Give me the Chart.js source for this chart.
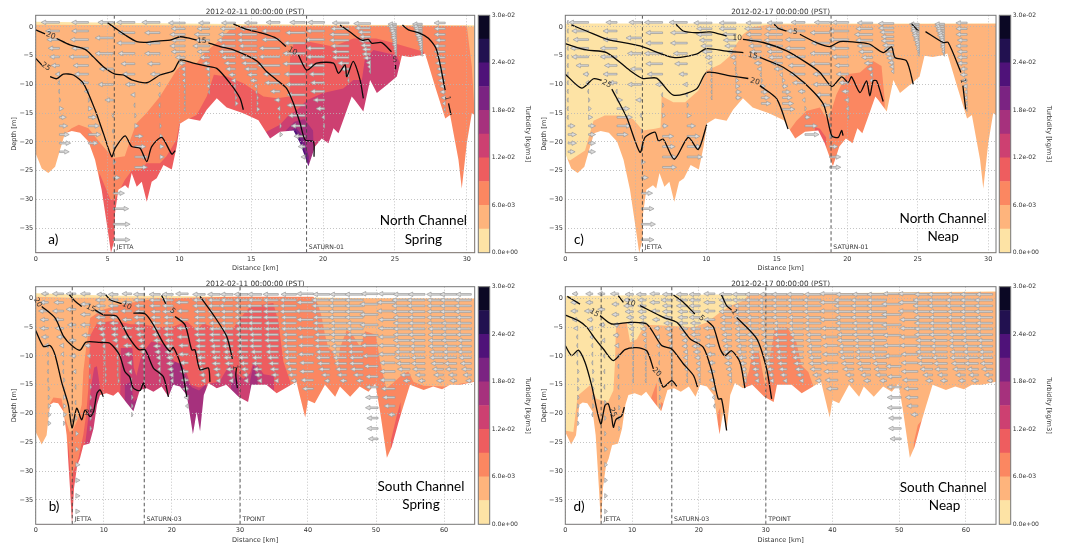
<!DOCTYPE html>
<html>
<head>
<meta charset="utf-8">
<script src="https://cdn.jsdelivr.net/npm/chart.js@4"></script>
<style>
  html, body { margin: 0; padding: 0; background: #fff; }
  body { position: relative; width: 1070px; height: 544px; overflow: hidden; }
  canvas { position: absolute; filter: blur(0.45px); }
</style>
</head>
<body>
<canvas id="panelA"></canvas>
<canvas id="panelC"></canvas>
<canvas id="panelB"></canvas>
<canvas id="panelD"></canvas>
<canvas id="barA"></canvas>
<canvas id="barC"></canvas>
<canvas id="barB"></canvas>
<canvas id="barD"></canvas>
<script>
// colour levels, low to high
const bandColors = ["#fde3a5", "#feb47c", "#fb8761", "#ee5d5f", "#cd4071", "#a6317d", "#7b2382", "#4f1279", "#221150", "#0b0824"];
const colorbarValues = [0, 0.006, 0.012, 0.018, 0.024, 0.03];
const colorbarLabels = ["0.0e+00", "6.0e-03", "1.2e-02", "1.8e-02", "2.4e-02", "3.0e-02"];
const depthTicks = [0, -5, -10, -15, -20, -25, -30, -35];
const northTicks = [0, 5, 10, 15, 20, 25, 30];
const southTicks = [0, 10, 20, 30, 40, 50, 60];

// bed profiles [km, m]
const northBed = [[0,-22],[.42,-24.6],[.88,-25.4],[1.35,-24.3],[1.69,-21.4],[2.04,-18.5],[2.51,-18.1],[3.09,-18.4],[3.67,-19.9],[4.13,-23.1],[4.59,-28.3],[4.94,-34.1],[5.24,-39.25],[5.48,-37],[5.52,-32.4],[5.75,-28.3],[6.22,-27.5],[6.45,-28.1],[6.68,-25.4],[7.03,-27.8],[7.38,-26.9],[7.73,-30.4],[8.07,-26.9],[8.42,-26.3],[8.89,-24],[9.47,-24.8],[9.81,-20.8],[10.05,-16.8],[10.63,-15.9],[11.44,-16.3],[11.9,-14.4],[12.6,-12.4],[13.29,-14],[14.45,-15],[15.5,-16.2],[16.31,-19.4],[17,-18.2],[17.94,-18],[18.4,-20.2],[18.98,-24.2],[19.44,-20.8],[19.9,-19.4],[20.37,-20.2],[20.72,-17.6],[21.07,-18.5],[21.53,-15.3],[21.99,-12.1],[22.2,-12.7],[22.8,-14.7],[23.27,-9.2],[23.74,-11.5],[24.43,-10.1],[25.13,-8.6],[25.48,-5],[26.06,-5.2],[26.75,-4.9],[27.1,-4.6],[27.8,-10.4],[28.5,-15.9],[28.84,-15.3],[29.42,-23.1],[29.65,-28.1],[30,-20.2],[30.35,-15],[30.55,-15.3]];
const southBed = [[0,-23.2],[.88,-25.4],[1.6,-23.8],[2.1,-18.5],[2.6,-18.1],[3.3,-18.2],[4.1,-19.7],[4.55,-23.8],[5.04,-33],[5.34,-39.25],[5.63,-33],[6.1,-29],[6.5,-27.8],[7,-25.5],[7.9,-25.2],[8.5,-22.6],[9,-18.5],[9.45,-16.8],[10.4,-16.5],[11.4,-16.9],[12.1,-16.2],[13.4,-18.2],[14.35,-19.6],[15.3,-15.9],[16.3,-15.6],[17.3,-16.2],[18.5,-15.3],[19.5,-17.1],[20.2,-15],[21.2,-15.3],[22.2,-16.8],[23.1,-23.6],[23.65,-19.7],[24.15,-23.1],[24.7,-16.8],[25.4,-14.7],[26.6,-15.6],[28,-15],[29.8,-17.1],[31.2,-18],[31.7,-15],[33.9,-15],[35.4,-16.5],[37.1,-15.3],[38.3,-14.5],[39.6,-20.7],[40,-17.7],[41,-18.2],[42.5,-15],[44,-17.1],[44.7,-15.3],[46.2,-17.1],[47.6,-15.3],[48.9,-16.2],[49.9,-14.8],[50.6,-19.7],[51.6,-27.7],[52.3,-25.8],[53.3,-21.5],[54,-18.8],[55,-15],[57,-15.9],[58.4,-15.3],[59.7,-15.8],[60.9,-15],[62.4,-15],[64.5,-14.5]];

// top of each colour level, panel a
const aBand0 = [[0,.9],[10,.6],[20,.4],[30.55,.3]];
const aBand1 = [[0,.4],[8,.3],[15,.2],[30.55,.1]];
const aBand2 = [[0,-40],[2,-40],[2.04,-18.6],[2.5,-17.6],[3,-17],[3.67,-17.6],[4.5,-20.2],[5.4,-22.8],[6.2,-22.5],[6.57,-19.7],[7,-16.8],[7.7,-15],[8.65,-12.1],[9.8,-7.5],[10.4,-6],[11.2,-6.3],[11.7,-4.6],[12.8,-2.3],[13.5,-.5],[14.45,.2],[30,.2],[30.35,-6.9],[30.55,-15.3]];
const aBand3 = [[0,-40],[4.4,-40],[4.43,-25.4],[5.2,-30],[5.5,-30],[6.2,-26.6],[6.7,-24.9],[7.3,-24.9],[7.7,-23.7],[8.65,-23.7],[9.1,-22.5],[9.8,-19.6],[10,-16.8],[11.2,-15.3],[11.9,-12.1],[12.4,-8.3],[13.3,-8.6],[14.45,-9.8],[15.85,-12.1],[16.8,-12.4],[17.66,-12.1],[17.7,-5.4],[17.95,-2.8],[19.1,-2.6],[20.7,-3.4],[22.1,-2],[23.7,-2],[24.9,-2.8],[27,-4.3],[27.2,-5.3],[27.3,-40]];
const aBand4 = [[0,-40],[15.8,-40],[15.85,-18.5],[17,-17],[17.5,-15.6],[18.2,-14.4],[18.9,-12.7],[20,-11.5],[21.4,-10.7],[22.1,-9.2],[22.7,-9.2],[22.9,-5.7],[23.5,-4],[25.1,-4.9],[25.35,-6.3],[25.5,-40]];
const aBand5 = [[0,-40],[17.35,-40],[17.4,-18],[18,-16.5],[18.7,-16],[19.3,-18],[19.6,-40]];
const aBand6 = [[0,-40],[17.55,-40],[17.6,-18.2],[18.1,-17.5],[18.6,-19],[19,-22.5],[19.2,-40]];
const aBand7 = [[0,-40],[17.75,-40],[17.8,-18.2],[18.1,-18],[18.5,-20],[18.9,-23],[18.95,-40]];

// panel c
const cBand0 = [[0,.6],[30.55,.6]];
const cBand1 = [[0,-40],[.05,-22.7],[.33,-23.2],[1.4,-21.5],[2,-16.3],[2.8,-15.4],[3.9,-15.4],[4.8,-16],[5.5,-18],[6.36,-17.7],[6.76,-17.5],[6.83,-12],[7.66,-13.1],[8.5,-13.1],[9.43,-11.1],[10,-7.6],[11,-6.5],[11.7,-5],[11.8,-4.2],[12.6,-1.3],[13.3,0],[14.5,.45],[30.55,.55]];
const cBand2 = [[0,-40],[15.75,-40],[15.8,-18.3],[16.4,-16.3],[17.1,-14.6],[18.06,-14],[18.65,-16.3],[19.24,-11.7],[19.95,-8.2],[20.9,-7.9],[21.84,-5.9],[22.43,-6.8],[22.65,-12.5],[22.7,-40]];
const cBand3 = [[0,-40],[17.65,-40],[17.7,-17.4],[18.06,-17.7],[18.5,-19.2],[18.7,-40]];

// panel b
const bBand0 = [[0,.9],[10,.5],[20,.4],[30,.3],[40,.2],[50,0],[64.5,-.1]];
const bBand1 = [[0,.3],[5,.1],[10,.1],[64.5,-.02]];
const bBand2 = [[0,-40],[1.9,-40],[2,-18.5],[2.6,-17.2],[3.8,-17.4],[4.3,-20.8],[5,-23.2],[5.4,-23],[6.27,-20.8],[6.76,-18.5],[7,-12.7],[7.4,-8.7],[8,-3.4],[9.7,-2],[12.4,-1.1],[15.3,-.5],[17.8,0],[29,.3],[40.8,.3],[41.5,-1.1],[42,-3.1],[42.5,-6.3],[43,-8.6],[43.7,-9.2],[44.3,-12.1],[44.7,-8.6],[45.7,-5.5],[46.7,-6.6],[47.65,-8.4],[48.4,-5.7],[50,-6.3],[50.6,-11],[51.5,-15.6],[52.5,-14.7],[53.8,-13.3],[54.75,-12.7],[55.5,-14.5],[57,-15.2],[60,-15.3],[64.5,-14.4]];
const bBand3 = [[0,-40],[4.4,-40],[4.8,-24.9],[5.2,-32.4],[5.5,-30.1],[6.27,-27.8],[7,-23.7],[7.4,-20.3],[7.74,-15.6],[8,-6.5],[9,-4.3],[11.4,-3.9],[14,-4.5],[15.8,-4.5],[17.8,-5],[20.2,-4.9],[22.2,-4],[23.65,-5.5],[24.6,-4.3],[27.1,-5.5],[29,-5.2],[30.3,-3.1],[31.5,-1.4],[34.9,-.8],[35.65,-4],[36.4,-11],[37.4,-14.5],[37.6,-40],[52,-40],[52.2,-24.6],[53,-20.6],[53.6,-18],[53.8,-40]];
const bBand4 = [[0,-40],[7,-40],[7.2,-26],[7.7,-21],[8.1,-15.5],[8.6,-12],[9,-11.8],[9.4,-15],[9.6,-40],[12.2,-40],[12.5,-8.6],[14.2,-8.6],[14.4,-12],[14.8,-13.5],[15.4,-10.5],[16,-9],[17,-7.5],[19,-8],[20,-10.5],[21,-11.5],[22,-12.5],[22.8,-15],[24,-15.5],[25.5,-14.8],[27,-14.5],[28.5,-11.5],[29.5,-13],[30.5,-14],[31.5,-13],[32,-11],[32.5,-11.5],[33.5,-13.2],[35,-13.5],[35.2,-40]];
const bBand5 = [[0,-40],[13,-40],[13.1,-15],[14,-14.5],[14.4,-18],[15.2,-17],[15.6,-40],[19.6,-40],[19.7,-12],[20.5,-11],[21.5,-11.5],[22,-13.5],[22.6,-15],[23,-15.5],[24,-16],[25,-15],[25.1,-40],[28.5,-40],[28.7,-14.5],[29.4,-13.7],[29.8,-15],[30,-40],[31,-40],[31.5,-14.3],[32,-11.7],[32.6,-14],[33,-40]];

// panel d
const dBand0 = [[0,.4],[27,.7],[40,.9],[55,1.1],[64.5,1.2]];
const dBand1 = [[0,-40],[.1,-23],[1.2,-23.2],[1.85,-16.9],[3.7,-15.1],[4.7,-17.5],[5.4,-17.7],[6.4,-18],[7.2,-16],[7.44,-11.1],[7.6,-4.5],[9.2,-4.2],[9.7,-7.6],[10.7,-7.1],[11.9,-4.6],[14.7,-4.7],[19.2,-5],[21.2,-4.2],[23.2,-2.4],[24.7,-1.3],[26.7,-.4],[27.4,.6],[40,.85],[64.5,1.15]];
const dBand2 = [[0,-40],[12.6,-40],[12.8,-17.5],[13.7,-14.6],[14,-40],[14.2,-40],[14.3,-18],[14.9,-18.5],[15,-40],[22.6,-40],[22.8,-20],[23.2,-19],[23.4,-40],[26.7,-40],[26.8,-15],[27.5,-12.7],[28,-9.5],[29,-9.5],[29.5,-12.5],[30,-15.5],[30.6,-10.5],[31.4,-5],[33.2,-5],[34.6,-7.6],[35.4,-11.7],[36.4,-12.8],[37.1,-15.1],[37.3,-40],[39.2,-40],[39.3,-18],[39.7,-40],[51.8,-40],[52.2,-25],[52.8,-22],[53.5,-21],[53.8,-40]];

// salinity contours, split where the label sits
const aContours = [
  [[5,.75],[5.53,-.2],[6.22,-1.4],[7.03,-2.55],[7.73,-2.67],[8.65,-2.4],[9.35,-2.3],[10.05,-1.7],[10.74,-2],[11.2,-2.26]],
  [[12.02,-2.75],[12.83,-3.4],[13.76,-4],[15.38,-5.9],[16.08,-7.8],[16.77,-9.2],[17.47,-10.7],[17.94,-13.3],[18.4,-16.75],[18.75,-19.65],[19.33,-19.95],[19.37,-22.55]],
  [[0,-.5],[.65,-1.2]],
  [[1.46,-2],[2.39,-3.1],[3.44,-3.9],[4.01,-5.2],[4.71,-6.9],[5.52,-8.2],[6.1,-8.35],[6.68,-9.2],[7.73,-9.7],[8.65,-8.35],[9.58,-7.6],[10.05,-5.75],[10.97,-6.3],[11.9,-6.8],[12.6,-7.2],[13.53,-9.8],[14.22,-12.4],[14.45,-14.4]],
  [[0,-5.45],[.42,-6.6]],
  [[1,-8.64],[1.46,-9],[1.92,-8.2],[2.62,-8.35],[3.32,-9.8],[4.13,-14.4],[4.71,-18.5],[5.29,-22.55],[5.52,-21.1],[6.22,-18.95],[6.68,-20.8],[7.26,-21.1],[7.73,-23.4],[8.07,-20.8],[8.77,-19.2],[9.47,-22.1],[9.71,-21.5]],
  [[13.76,.5],[14.68,-.4],[15.77,-1.1],[16.77,-2],[17.42,-3.4]],
  [[18.28,-4.87],[18.86,-7.5],[19.56,-6.3],[20.72,-6.3],[21.07,-8.05],[21.53,-6.6],[21.65,-8.64],[22.1,-6],[22.57,-9.2],[22.8,-12.4]],
  [[21.18,.35],[21.99,-1.1],[22.7,-2.3],[23.15,-2.15],[23.4,-2.84],[24.08,-2.72],[24.76,-4.3]],
  [[25.04,-6.6],[25.04,-7.36]],
  [[25.52,.35],[25.94,-.5],[26.75,-1.1],[27.33,-1.97],[27.9,-4],[28.5,-11]],
  [[28.73,-13.3],[28.9,-15.3]]
];
const cContours = [
  [[7.85,.46],[8.37,-.7],[9.3,-1],[10.26,-.87],[11.44,-1.56]],
  [[12.6,-2.14],[14.04,-2.7],[15.7,-4.16],[17.1,-6.2],[18.06,-7.9],[18.9,-10.35],[19.6,-8.67],[20.07,-9.65],[20.3,-8.67],[20.9,-11.4],[21.37,-9.36],[21.6,-11.97],[21.84,-9.36],[22.08,-9.36],[22.55,-12.95]],
  [[14.82,.46],[15.1,-.23],[15.7,-.7]],
  [[16.64,-1.27],[17.8,-2.72],[18.77,-3.4],[19.48,-2.54],[20.9,-2.72],[21.6,-3],[22.55,-4.45],[23.14,-3.47],[23.38,-5.3],[24.2,-5.9],[24.68,-9.95]],
  [[.43,.35],[1.5,-.7],[2.99,-2.14],[5.3,-3.3],[7.66,-5.3],[9.3,-4.74],[10,-3.76],[11.44,-4.2],[12.63,-4.45]],
  [[13.8,-5.3],[15.46,-7],[16.9,-9.6],[18.3,-13.4],[18.9,-18.9],[19.36,-19.2],[19.6,-18],[19.7,-18.9]],
  [[0,-2.9],[1.5,-4],[2.93,-4.45],[4.6,-7.6],[5.5,-8.96],[6.48,-8.9],[7.66,-11.85],[9.3,-10.8],[10.03,-7.9],[11.68,-8.5],[12.98,-8.96]],
  [[13.8,-10.2],[15,-12.5],[15.8,-17.75]],
  [[0,-8.2],[1.16,-10.64],[2,-9],[2.58,-9.25]],
  [[3.3,-10.8],[4.35,-15.7],[5.3,-21.8],[5.65,-19.2],[6.36,-18.3],[6.6,-19.8],[6.95,-19.5],[7.73,-23],[8.72,-19.2],[9.43,-21.3],[10.03,-17]],
  [[24.56,.58],[25.04,-.7]],
  [[25.55,-.8],[26.8,-2.7],[27.16,-2.7],[28.06,-7.9]],
  [[28.2,-10.2],[28.4,-14.3]]
];
const bContours = [
  [[0,-5.6],[1.13,-8.35],[2.1,-8.2],[2.83,-9.8],[3.8,-14.5],[4.8,-18.5],[5.34,-22.5],[6.02,-19.1],[6.76,-21.1],[7.25,-19.4],[8,-20.55],[8.5,-19.7],[9,-16.5],[9.45,-15.9],[9.94,-17.1]],
  [[.88,-1.4],[2.84,-3.4],[4.1,-6.6],[5.3,-8.2],[6.5,-9],[7.4,-7.6],[9.45,-7.66],[10.9,-7.8],[12.3,-9.8],[13.1,-12.7],[13.8,-13.6],[14.35,-15.6],[15.33,-16],[15.82,-14.7],[16.1,-15.6]],
  [[4.95,.64],[5.8,-.5],[6.76,-1.4]],
  [[8.7,-2],[9.94,-2.85],[11.9,-3.1],[13.6,-6.6],[15.1,-8.9],[16.06,-8.9],[17.3,-12.1],[18.75,-13.6],[19.5,-17.1]],
  [[10.28,.64],[10.92,-.23],[12.63,-.93]],
  [[14.35,-2.55],[16.06,-2.67],[17.3,-4.6],[18.75,-7.78],[19.74,-9.2],[20.22,-8.53],[21.45,-12.1],[21.94,-15.3],[22.2,-17.1]],
  [[18.5,.52],[19.1,-.93]],
  [[20.47,-3.13],[21.94,-4.6],[22.92,-8.94],[23.4,-8.94],[24.14,-12.4],[25.37,-12.1],[25.6,-14.5]],
  [[24.14,.35],[26.1,-2.85],[28.06,-6.6],[28.9,-10.5]],
  [[29.5,-12.1],[29.4,-13.3],[29.63,-15.6]]
];
const dContours = [
  [[0,-8.2],[.95,-9.94],[1.95,-9],[2.95,-11.1],[3.94,-15.1],[5.3,-21.8],[5.94,-18.6],[6.44,-18.3],[6.94,-20.6],[7.2,-22.4],[7.6,-21],[8.44,-20.4],[8.84,-18.9]],
  [[0,-2.9],[1.95,-3.87],[3.2,-5],[4.44,-7],[5.7,-8.8],[7.2,-10.8],[8.94,-8.9],[10.7,-8.55],[12.2,-9.1],[13.2,-12.25]],
  [[14.1,-13.8],[14.68,-15.4],[15.93,-14.3],[16.7,-15.26]],
  [[.3,.35],[2.2,-1]],
  [[5.2,-3],[6.94,-4.45],[9.7,-4.16],[12.2,-4.45],[14.43,-8.2],[15.93,-8.8],[17.7,-11.4],[19.2,-13.4],[19.8,-15.4]],
  [[7.94,.46],[8.7,-.7]],
  [[11.2,-1.27],[14.7,-3.3],[16.7,-4.16],[18.67,-7],[20.67,-8.5],[21.9,-12.5],[22.9,-17.46],[23.4,-17.46],[24.16,-22.95]],
  [[16.2,.58],[17.7,-.7],[19.4,-2.7]],
  [[21.2,-3.87],[22.2,-5],[23.2,-8.8],[23.9,-9.94],[24.9,-9.1],[26.16,-11.1],[26.9,-15.6]],
  [[23.4,.58],[24.16,-1.27],[24.9,-2]],
  [[25.66,-3.3],[28.66,-7],[30.15,-12.25],[30.9,-17.46]]
];

// contour labels [text, km, m, rotation]
const aContourLabels = [["20",1.04,-1.5,20],["15",11.55,-2.4,0],["25",.7,-6.9,35],["10",17.87,-4.2,30],["5",25,-5.7,0],["1",28.65,-12.4,80]];
const cContourLabels = [["5",16.3,-.87,10],["10",12.2,-1.85,0],["15",13.3,-5,10],["20",13.45,-9.5,15],["25",2.93,-9.9,30],["1",28.2,-9.4,80]];
const bContourLabels = [["20",.3,-.7,60],["15",8.1,-1.7,25],["10",13.4,-1.3,25],["5",20.1,-2.2,40],["25",7.9,-20,0],["1",29.3,-12,80]];
const dContourLabels = [["25",7.1,-19.8,70],["20",13.68,-12.8,45],["15",4.34,-2.54,30],["10",9.8,-.8,20],["5",20.4,-3.47,40],["1",25.3,-2.4,60]];

// stations
const northStations = ["JETTA", "SATURN-01"];
const northStationKm = [5.47, 18.85];
const southStations = ["JETTA", "SATURN-03", "TPOINT"];
const southStationKm = [5.37, 15.95, 30.03];

// velocity arrows: tail km, depth levels (m) and along-channel speed (dm/s, flood is negative)
const quiverLevels = [
  [.5,.1,-.3,-.7,-1.1,-1.5,-1.9,-2.3,-2.7,-3.1,-3.5,-3.9,-4.3,-4.7],
  [.6,-.2,-.9,-1.7,-2.4,-3.2,-3.9,-4.7,-5.4,-6.2,-6.9,-7.7,-8.4,-9.2,-9.9],
  [.7,-.3,-1.3,-2.3,-3.3,-4.3,-5.3,-6.3,-7.3,-8.3,-9.3,-10.3,-11.3,-12.3,-13.3,-14.3],
  [.8,-.7,-2.2,-3.7,-5.2,-6.7,-8.2,-9.7,-11.2,-12.7,-14.2,-15.7,-17.2,-18.7,-20.2,-21.7],
  [.8,-1,-2.8,-4.6,-6.4,-8.2,-10,-11.8,-13.6,-15.4,-17.2,-19,-20.8,-22.6,-24.4],
  [.8,-1.9,-4.6,-7.3,-10,-12.7,-15.4,-18.1,-20.8,-23.5,-26.2,-28.9,-31.6,-34.3,-37]
];
const northQuiverKm = [.2,1.65,3.67,5.4,6.9,8.65,10.4,12.1,13.9,15.4,17,18.75,20.1,21.8,23.3,25.1,26.9,28.5];
const northQuiverLevel = [3,3,3,5,4,4,2,2,2,2,3,4,3,2,1,0,0,2];
const southQuiverKm = [1.85,4.1,5.9,8,10.2,12.1,14.1,16,18.3,20.2,22.4,24.9,27.1,29,31.2,33.2,35.65,38.3,40.8,43.2,45.7,48.1,50.3,52.8,55,57.2,59.9,61.85,64];
const southQuiverLevel = [3,3,5,4,2,2,3,2,2,2,3,2,2,2,2,2,2,2,3,2,2,2,4,3,2,2,2,2,2];

const aQuiver = [
  [],
  [-13,-10,-9,-8,-7,-6,-3,-1,0,1,3,5,6,7,8,7],
  [-12,-12,-13,-12,-14,-11,-10,-6,-3,1,3,6,8,9,7],
  [-11,-13,-13,-10,-11,-6,-1,0,1,2,5,8,11,12,12],
  [-13,-12,-13,-12,-10,-9,-7,-3,0,1,3,6,8,9,9],
  [-13,-11,-10,-11,-9,-7,-2,-1,-1,0,1,2,3,3],
  [-12,-10,-11,-10,-11,-10,-7,-5,-3,-2,-2,-1,-1,0,0,0],
  [-8,-9,-11,-10,-12,-9,-7,-5,-3,-2,-1,-2,-1],
  [-10,-11,-12,-13,-11,-12,-10,-8,-7,-5,-3,-1,0,1,2],
  [-9,-12,-14,-14,-13,-14,-12,-11,-9,-7,-5,-2,-1,1,1,2],
  [-10,-13,-13,-15,-15,-16,-12,-11,-7,-4,-2,-1,1,2],
  [-11,-14,-15,-16,-16,-15,-14,-13,-13,-12,-10,-8,-5,-3],
  [-12,-13,-14,-13,-13,-12,-11,-10,-10,-8,-6,-2,-1],
  [-12,-13,-14,-14,-13,-12,-12,-8,-6,-3,-1],
  [-12,-11,-9,-8,-8,-7,-6,-6,-5,-3,-2,-1],
  [-6,-6,-5,-5,-4,-4,-4,-3,-3,-3,-2,-2,-1,-1],
  [-7,-7,-6,-6,-5,-5,-4,-4,-3,-3,-2,-2,-1,-1],
  [-8,-8,-8,-7,-8,-8,-7,-7,-6,-6,-5,-4,-4,-3,-2,-1]
];
const cQuiver = [
  [0,0,0,0,0,0,0,0,0,0,0,0,5,6,6,5],
  [-14,-12,-11,-13,-12,-9,-4,-2,0,1,2,3,5,5,5,5],
  [-8,-10,-10,-12,-12,-9,-10,-6,-1,4,9,11,10,8],
  [-9,-11,-10,-8,-10,-4,-1,1,2,3,5,8,9,10,9],
  [-13,-12,-12,-13,-12,-11,-5,-1,1,2,4,8,9,10,10],
  [-13,-12,-12,-10,-9,-6,-3,-1,1,3,6,9,10,11],
  [-13,-11,-11,-9,-8,-7,-5,-3,-1,0,-1,0,0,0],
  [-12,-12,-10,-9,-8,-6,-4,-2,0,1,2,3,4,4],
  [-11,-12,-11,-10,-9,-8,-7,-5,-3,-1,1,3,5,6,7],
  [-11,-12,-13,-13,-12,-11,-10,-8,-6,-2,2,4,6,7,8,9],
  [-10,-13,-14,-14,-14,-12,-11,-9,-5,-2,1,4,9,10],
  [-11,-14,-13,-14,-14,-12,-12,-10,-6,-1,1,3,6,8,8],
  [-12,-14,-14,-13,-12,-10,-9,-7,-5,-3,-2,-1],
  [-11,-12,-13,-12,-11,-10,-8,-6,-4,-2,-2],
  [-11,-11,-10,-9,-9,-8,-7,-6,-5,-4,-3,-2],
  [-7,-6,-6,-6,-5,-5,-4,-4,-3,-3,-2,-2,-1,-1],
  [-7,-7,-6,-6,-5,-5,-4,-4,-3,-3,-3,-2,-2,-1],
  [-8,-8,-8,-7,-8,-7,-7,-7,-5,-5,-4,-3,-2,-2,-1,-1]
];
const bQuiver = [
  [-5,-6,-7,-6,-6,-5,-3,-1,0,0,0,1,1,2,2,2],
  [-8,-7,-8,-7,-6,-5,-3,-2,-1,0,1,1,2,2,2,1],
  [-7,-7,-6,-5,-4,-2,0,0,1,2,2,3,3,3,3],
  [-7,-7,-7,-7,-6,-4,-2,-1,0,1,1,1,1,1],
  [-6,-7,-7,-7,-7,-6,-5,-4,-3,-2,-1,-1,0,1,1,1],
  [-7,-7,-7,-7,-6,-6,-5,-5,-4,-2,-1,-1,0,0,0,1],
  [-7,-7,-8,-7,-7,-7,-6,-5,-3,-2,-1,0,1,1,1],
  [-8,-8,-7,-7,-8,-7,-7,-6,-5,-4,-3,-2,-1,-1,0,0],
  [-8,-8,-8,-7,-7,-7,-6,-6,-5,-5,-4,-3,-2,-2,-1,-1],
  [-8,-8,-8,-8,-7,-7,-7,-7,-6,-6,-6,-5,-5,-4,-3,-2],
  [-9,-9,-8,-8,-8,-8,-7,-7,-6,-6,-5,-4,-3,-2],
  [-9,-9,-9,-8,-8,-8,-8,-8,-7,-7,-7,-6,-6,-5,-4,-3],
  [-9,-9,-9,-9,-9,-8,-8,-8,-8,-7,-7,-6,-6,-5,-4,-3],
  [-9,-9,-10,-9,-9,-9,-9,-8,-8,-8,-7,-7,-6,-5,-4,-3],
  [-10,-10,-10,-10,-10,-9,-9,-9,-8,-8,-8,-7,-6,-5,-4,-3],
  [-10,-10,-11,-10,-10,-10,-10,-9,-9,-9,-8,-7,-7,-6,-5,-3],
  [-11,-11,-11,-11,-11,-10,-10,-10,-10,-9,-9,-8,-7,-6,-5,-3],
  [-11,-12,-12,-12,-11,-11,-11,-10,-10,-10,-9,-9,-8,-7,-6,-4],
  [-12,-12,-13,-12,-12,-11,-11,-11,-10,-10,-9,-8],
  [-12,-13,-13,-13,-12,-12,-12,-11,-11,-11,-10,-10,-9,-8,-6,-4],
  [-12,-13,-13,-13,-13,-12,-12,-12,-12,-11,-11,-10,-9,-8,-7,-5],
  [-13,-13,-13,-13,-13,-12,-12,-12,-12,-11,-11,-10,-10,-9,-7,-5],
  [-12,-13,-13,-13,-12,-12,-11,-10,-9,-9,-9,-9,-8,-8,-7],
  [-12,-13,-13,-12,-12,-12,-12,-12,-11,-11,-11,-10,-9,-8,-5],
  [-12,-13,-13,-13,-12,-12,-12,-12,-12,-11,-11,-11,-10,-9,-7,-5],
  [-12,-13,-13,-12,-12,-12,-12,-12,-11,-11,-11,-10,-10,-9,-7,-5],
  [-12,-12,-12,-12,-12,-12,-11,-11,-11,-11,-10,-10,-9,-8,-7,-5],
  [-12,-12,-12,-12,-12,-11,-11,-11,-11,-10,-10,-10,-9,-8,-6,-5],
  [-11,-12,-12,-12,-11,-11,-11,-11,-10,-10,-10,-9,-8,-7,-6,-4]
];
const dQuiver = [
  [-4,-5,-5,-4,-3,-1,0,0,0,1,1,1,1,1,1,1],
  [-5,-5,-6,-4,-3,-2,-1,0,0,1,1,1,1,1,0],
  [-5,-5,-4,-2,-1,0,0,1,1,1,2,2,2,2,2],
  [-6,-5,-5,-4,-4,-3,-1,0,0,0,1,1,1,1],
  [-6,-7,-7,-6,-5,-4,-3,-2,-1,-1,0,0,0,0,0,0],
  [-7,-6,-6,-6,-5,-5,-4,-3,-2,-1,-1,0,0,0,0,0],
  [-7,-7,-6,-5,-4,-3,-2,-1,0,0,0,1,1,1],
  [-7,-8,-7,-7,-7,-6,-5,-4,-3,-2,-2,-1,-1,0,0,0],
  [-8,-8,-8,-7,-7,-7,-6,-5,-4,-4,-3,-3,-2,-2,-1,-1],
  [-8,-8,-8,-8,-8,-7,-7,-7,-6,-6,-5,-4,-3,-3,-2,-1],
  [-8,-8,-8,-8,-8,-7,-7,-6,-5,-5,-4,-3,-2,-1],
  [-9,-9,-9,-9,-8,-8,-8,-7,-7,-6,-6,-5,-5,-4,-3,-2],
  [-10,-10,-9,-9,-9,-9,-8,-8,-8,-7,-7,-6,-5,-4,-3,-2],
  [-10,-10,-10,-10,-9,-9,-9,-9,-8,-8,-7,-7,-6,-5,-4,-3],
  [-10,-11,-11,-11,-10,-10,-10,-9,-9,-8,-8,-7,-6,-5,-4,-3],
  [-11,-11,-11,-11,-11,-10,-10,-10,-9,-9,-8,-8,-7,-6,-5,-3],
  [-12,-12,-12,-12,-11,-11,-11,-10,-10,-10,-9,-8,-7,-6,-5,-3],
  [-12,-13,-13,-13,-12,-12,-12,-11,-11,-10,-10,-9,-9,-8,-6,-4],
  [-13,-13,-13,-13,-12,-12,-11,-11,-11,-10,-9,-8],
  [-13,-14,-14,-14,-13,-13,-13,-12,-12,-11,-11,-10,-9,-8,-6,-4],
  [-13,-14,-14,-14,-14,-13,-13,-13,-12,-12,-11,-11,-10,-9,-7,-5],
  [-14,-14,-14,-14,-14,-13,-13,-13,-12,-12,-12,-11,-10,-9,-8,-5],
  [-13,-14,-14,-14,-13,-13,-12,-11,-10,-10,-10,-10,-9,-9,-8],
  [-14,-14,-14,-13,-13,-13,-13,-12,-12,-12,-11,-10,-9,-8,-5],
  [-13,-14,-14,-14,-13,-13,-13,-13,-12,-12,-12,-11,-11,-9,-7,-5],
  [-14,-14,-14,-13,-13,-13,-13,-13,-12,-12,-12,-11,-10,-9,-7,-5],
  [-13,-14,-14,-13,-13,-13,-13,-12,-12,-12,-11,-11,-10,-9,-7,-5],
  [-13,-13,-13,-13,-13,-13,-12,-12,-12,-11,-11,-10,-10,-8,-7,-5],
  [-12,-13,-13,-13,-12,-12,-12,-12,-11,-11,-10,-10,-9,-8,-6,-4]
];

const depthMin = -39.25, depthMax = 2.03;
const fontFamily = "'DejaVu Sans', sans-serif";
const noteFamily = "Lato, sans-serif";
const textColor = "#333";

const panels = [
  { id: "panelA", barId: "barA", left: 0, top: 0, width: 478, plotLeft: 35.7, plotRight: 474.7, plotTop: 15.3, plotBottom: 252.7, titleTop: 8.7,
    title: "2012-02-11 00:00:00 (PST)", xMax: 30.55, xTicks: northTicks, bed: northBed,
    bands: [aBand0, aBand1, aBand2, aBand3, aBand4, aBand5, aBand6, aBand7], contours: aContours, contourLabels: aContourLabels,
    stations: northStations, stationKm: northStationKm, quiverKm: northQuiverKm, quiverLevel: northQuiverLevel, quiver: aQuiver,
    notes: [["North Channel", 26.98, -33.6], ["Spring", 26.98, -36.9], ["a)", 1.23, -36.9]] },
  { id: "panelC", barId: "barC", left: 530, top: 0, width: 469, plotLeft: 35.3, plotRight: 466, plotTop: 15.3, plotBottom: 252.7, titleTop: 8.7,
    title: "2012-02-17 00:00:00 (PST)", xMax: 30.55, xTicks: northTicks, bed: northBed,
    bands: [cBand0, cBand1, cBand2, cBand3], contours: cContours, contourLabels: cContourLabels,
    stations: northStations, stationKm: northStationKm, quiverKm: northQuiverKm, quiverLevel: northQuiverLevel, quiver: cQuiver,
    notes: [["North Channel", 26.8, -33.35], ["Neap", 26.8, -36.5], ["c)", .97, -37]] },
  { id: "panelB", barId: "barB", left: 0, top: 272, width: 478, plotLeft: 35.7, plotRight: 474.7, plotTop: 14.7, plotBottom: 252.3, titleTop: 8,
    title: "2012-02-11 00:00:00 (PST)", xMax: 64.5, xTicks: southTicks, bed: southBed,
    bands: [bBand0, bBand1, bBand2, bBand3, bBand4, bBand5], contours: bContours, contourLabels: bContourLabels,
    stations: southStations, stationKm: southStationKm, quiverKm: southQuiverKm, quiverLevel: southQuiverLevel, quiver: bQuiver,
    notes: [["South Channel", 56.6, -32.7], ["Spring", 56.6, -35.9], ["b)", 2.7, -36.2]] },
  { id: "panelD", barId: "barD", left: 530, top: 272, width: 469, plotLeft: 35.3, plotRight: 466, plotTop: 14.7, plotBottom: 252.3, titleTop: 8,
    title: "2012-02-17 00:00:00 (PST)", xMax: 64.5, xTicks: southTicks, bed: southBed,
    bands: [dBand0, dBand1, dBand2], contours: dContours, contourLabels: dContourLabels,
    stations: southStations, stationKm: southStationKm, quiverKm: southQuiverKm, quiverLevel: southQuiverLevel, quiver: dQuiver,
    notes: [["South Channel", 56.6, -32.8], ["Neap", 56.8, -36], ["d)", 2.05, -36.2]] }
];

const toPoints = (pts) => pts.map(([x, y]) => ({ x, y }));

function areaDataset(pts, color, order) {
  return { data: toPoints(pts), backgroundColor: color, borderColor: "transparent", borderWidth: 0, pointRadius: 0, fill: "start", order };
}

function drawArrow(ctx, x, y, len) {
  const dir = len < 0 ? -1 : 1;
  const size = Math.abs(len);
  const head = Math.min(4.5, size);
  const tip = x + len;
  ctx.beginPath();
  ctx.moveTo(x, y - 0.8);
  ctx.lineTo(tip - dir * head, y - 0.8);
  ctx.lineTo(tip - dir * head, y - 2.3);
  ctx.lineTo(tip, y);
  ctx.lineTo(tip - dir * head, y + 2.3);
  ctx.lineTo(tip - dir * head, y + 0.8);
  ctx.lineTo(x, y + 0.8);
  ctx.closePath();
  ctx.fill();
  ctx.stroke();
}

// arrows go in right after the white bed mask so the contours stay on top
const quiverPlugin = {
  id: "quiver",
  afterDatasetDraw(chart, args) {
    if (!chart.data.datasets[args.index].isBed) return;
    const p = chart.config.options.panel;
    const { ctx, chartArea: area, scales } = chart;
    ctx.save();
    ctx.beginPath();
    ctx.rect(area.left, area.top, area.right - area.left, area.bottom - area.top);
    ctx.clip();
    ctx.fillStyle = "#dcdcdc";
    ctx.strokeStyle = "#999";
    ctx.lineWidth = 0.7;
    p.quiver.forEach((speeds, col) => {
      const levels = quiverLevels[p.quiverLevel[col]];
      const x = scales.x.getPixelForValue(p.quiverKm[col]);
      speeds.forEach((u, i) => {
        const y = scales.y.getPixelForValue(levels[i]);
        drawArrow(ctx, x, y, u === 0 ? -1 : u * 1.4);
      });
    });
    ctx.restore();
  }
};

const textPlugin = {
  id: "panelText",
  afterDraw(chart) {
    const p = chart.config.options.panel;
    const { ctx, chartArea: area, scales } = chart;
    ctx.save();
    ctx.strokeStyle = "#777";
    ctx.lineWidth = 1;
    ctx.strokeRect(area.left, area.top, area.right - area.left, area.bottom - area.top);
    ctx.fillStyle = textColor;
    ctx.textBaseline = "middle";
    ctx.font = "6.2px " + fontFamily;
    ctx.textAlign = "left";
    p.stations.forEach((name, i) => {
      ctx.fillText(name, scales.x.getPixelForValue(p.stationKm[i]) + 2.3, scales.y.getPixelForValue(-38.4));
    });
    ctx.textAlign = "center";
    ctx.font = "7.5px " + fontFamily;
    p.contourLabels.forEach(([text, km, m, rot]) => {
      ctx.save();
      ctx.translate(scales.x.getPixelForValue(km), scales.y.getPixelForValue(m));
      ctx.rotate(rot * Math.PI / 180);
      ctx.fillText(text, 0, 0);
      ctx.restore();
    });
    ctx.fillStyle = "#000";
    ctx.font = "13.5px " + noteFamily;
    p.notes.forEach(([text, km, m]) => {
      ctx.fillText(text, scales.x.getPixelForValue(km), scales.y.getPixelForValue(m));
    });
    ctx.restore();
  }
};

function buildPanel(p) {
  const canvas = document.getElementById(p.id);
  canvas.width = p.width;
  canvas.height = 272;
  canvas.style.left = p.left + "px";
  canvas.style.top = p.top + "px";

  const datasets = [];
  p.bands.forEach((band, i) => datasets.push(areaDataset(band, bandColors[i], 100 - i)));
  const bed = areaDataset(p.bed, "#ffffff", 50);
  bed.isBed = true;
  datasets.push(bed);
  p.stationKm.forEach((km) => {
    datasets.push({ data: [{ x: km, y: depthMin }, { x: km, y: depthMax }], borderColor: "#444", borderWidth: 0.9, borderDash: [3.5, 2.5], pointRadius: 0, fill: false, order: 10 });
  });
  p.contours.forEach((line) => {
    datasets.push({ data: toPoints(line), borderColor: "#0a0a0a", borderWidth: 1.3, pointRadius: 0, fill: false, tension: 0.25, order: 5 });
  });

  const tickFont = { family: fontFamily, size: 6.5 };
  const labelFont = { family: fontFamily, size: 6.6 };
  const grid = { display: true, z: 1, color: "#b5b5b5", lineWidth: 0.8, drawTicks: false };
  const border = { display: false, dash: [1, 2] };

  new Chart(canvas, {
    type: "line",
    data: { datasets },
    options: {
      panel: p,
      responsive: false,
      animation: false,
      events: [],
      layout: { padding: { left: 0, right: p.width - p.plotRight, top: 0, bottom: 0 } },
      plugins: {
        legend: { display: false },
        tooltip: { enabled: false },
        title: {
          display: true, text: p.title, color: textColor, fullSize: false,
          font: { family: fontFamily, size: 7.3, weight: "normal", lineHeight: 1 },
          padding: { top: p.titleTop, bottom: p.plotTop - p.titleTop - 7.3 }
        }
      },
      scales: {
        x: {
          type: "linear", min: 0, max: p.xMax, grid, border,
          ticks: { font: tickFont, color: textColor, padding: 2.5, autoSkip: false, maxRotation: 0 },
          title: { display: true, text: "Distance [km]", color: textColor, font: labelFont, padding: 0 },
          afterBuildTicks: (s) => { s.ticks = p.xTicks.map((value) => ({ value })); },
          afterFit: (s) => { s.height = 272 - p.plotBottom; }
        },
        y: {
          type: "linear", min: depthMin, max: depthMax, grid, border,
          ticks: { font: tickFont, color: textColor, padding: 2.5, autoSkip: false, callback: (v) => String(v).replace("-", "\u2212") },
          title: { display: true, text: "Depth [m]", color: textColor, font: labelFont, padding: { top: 10.5, bottom: 0 } },
          afterBuildTicks: (s) => { s.ticks = depthTicks.map((value) => ({ value })); },
          afterFit: (s) => { s.width = p.plotLeft; }
        }
      }
    },
    plugins: [quiverPlugin, textPlugin]
  });
}

function buildColorbar(p) {
  const canvas = document.getElementById(p.barId);
  const barLeft = p.plotRight + 3.6;
  canvas.width = 56;
  canvas.height = 272;
  canvas.style.left = (p.left + barLeft - 2.3) + "px";
  canvas.style.top = p.top + "px";
  const tickFont = { family: fontFamily, size: 6.1 };
  new Chart(canvas, {
    type: "bar",
    data: {
      labels: [""],
      datasets: bandColors.map((color) => ({ data: [0.003], backgroundColor: color, borderWidth: 0, barPercentage: 1, categoryPercentage: 1 }))
    },
    options: {
      responsive: false,
      animation: false,
      events: [],
      layout: { padding: { left: 2.3, right: 0, top: p.plotTop, bottom: 272 - p.plotBottom } },
      plugins: { legend: { display: false }, tooltip: { enabled: false } },
      scales: {
        x: { stacked: true, display: false },
        y: {
          stacked: true, position: "right", min: 0, max: 0.03,
          grid: { display: false, drawTicks: false }, border: { display: false },
          ticks: { font: tickFont, color: textColor, padding: 2, autoSkip: false, callback: (v, i) => colorbarLabels[i] },
          title: { display: true, text: "Turbidity [kg/m3]", color: textColor, font: { family: fontFamily, size: 6.6 }, padding: { top: 0, bottom: 1 } },
          afterBuildTicks: (s) => { s.ticks = colorbarValues.map((value) => ({ value })); },
          afterFit: (s) => { s.width = 42.3; }
        }
      }
    },
    plugins: [{
      id: "barFrame",
      afterDraw(chart) {
        const { ctx, chartArea: a } = chart;
        ctx.save();
        ctx.strokeStyle = "#777";
        ctx.lineWidth = 1;
        ctx.strokeRect(a.left, a.top, a.right - a.left, a.bottom - a.top);
        ctx.restore();
      }
    }]
  });
}

panels.forEach((p) => { buildPanel(p); buildColorbar(p); });
</script>
</body>
</html>
